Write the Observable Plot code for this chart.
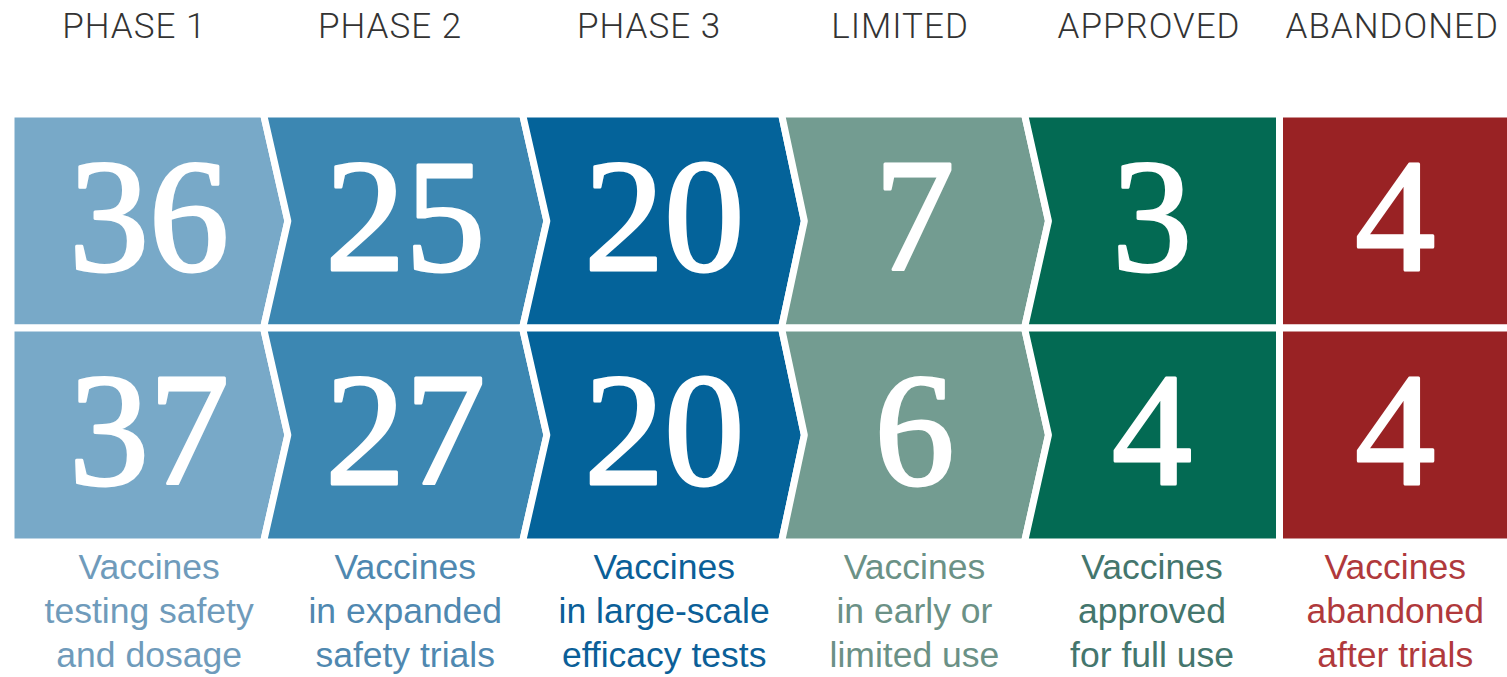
<!DOCTYPE html>
<html>
<head>
<meta charset="utf-8">
<script src="https://cdn.jsdelivr.net/npm/d3@7"></script>
<script src="https://cdn.jsdelivr.net/npm/@observablehq/plot@0.6"></script>
<style>
  html, body { margin: 0; padding: 0; background: #fff; }
  #chart svg { display: block; }
  .hdr text { letter-spacing: 1px; }
</style>
</head>
<body>
<div id="chart"></div>
<script>
// ---- data ----
const stages = ["PHASE 1", "PHASE 2", "PHASE 3", "LIMITED", "APPROVED", "ABANDONED"];
const countsTop = [36, 25, 20, 7, 3, 4];
const countsBottom = [37, 27, 20, 6, 4, 4];
const descriptions = [
  "Vaccines\ntesting safety\nand dosage",
  "Vaccines\nin expanded\nsafety trials",
  "Vaccines\nin large-scale\nefficacy tests",
  "Vaccines\nin early or\nlimited use",
  "Vaccines\napproved\nfor full use",
  "Vaccines\nabandoned\nafter trials"
];
const fillColors = ["#78a9c8", "#3c87b2", "#04639a", "#739c91", "#036a53", "#992224"];
const textColors = ["#6f9bbb", "#4f88b0", "#0b5f98", "#6b9186", "#44766d", "#b0393c"];

// ---- shapes (chevrons) built from the stage index ----
const tip = 0.094; // depth of the arrow point, in column units
const rows = [countsTop, countsBottom];
const polys = [];
const cells = [];
rows.forEach((vals, r) => {
  stages.forEach((s, i) => {
    const point = i < 4;            // points into next stage
    const notch = i >= 1 && i <= 4; // receives previous point
    const pts = [[i, r], [i + 1, r]];
    if (point) pts.push([i + 1 + tip, r + 0.5]);
    pts.push([i + 1, r + 1], [i, r + 1]);
    if (notch) pts.push([i + tip, r + 0.5]);
    pts.push([i, r]);
    const key = r + "-" + i;
    pts.forEach(([x, y]) => polys.push({x, y, key, color: fillColors[i]}));
    cells.push({i, r, value: vals[i], cx: i + 0.5 + (point ? tip / 2 : 0)});
  });
});
const descs = descriptions.map((t, i) => ({i, t, cx: i + 0.5 + (i < 4 ? tip / 2 : 0), color: textColors[i]}));

const chart = Plot.plot({
  width: 1507,
  height: 677,
  marginTop: 113.5,
  marginBottom: 135.5,
  marginLeft: 0,
  marginRight: 0,
  x: {type: "linear", domain: [0, 1, 2, 3, 4, 5, 6], range: [10.5, 263, 522, 781, 1024, 1279, 1510.5], axis: null},
  y: {type: "linear", domain: [0, 2], range: [113.5, 541.5], axis: null},
  color: {type: "identity"},
  marks: [
    Plot.line(polys, {x: "x", y: "y", z: "key", fill: "color", stroke: "white", strokeWidth: 7, strokeLinejoin: "miter"}),
    Plot.text(cells, {
      x: "cx", y: d => d.r + 0.5, text: d => String(d.value),
      fill: "white", stroke: "white", strokeWidth: 3,
      fontSize: 160, fontFamily: "Liberation Serif", fontWeight: "normal",
      lineAnchor: "middle", dy: -2
    }),
    Plot.text(stages, {
      x: (d, i) => i + 0.5, text: d => d, frameAnchor: "top", lineAnchor: "bottom",
      dy: -76.5, dx: -3, fontSize: 35, fontFamily: "Roboto", fontWeight: 300, fill: "#333",
      className: "hdr"
    }),
    Plot.text(descs, {
      x: "cx", text: "t", fill: "color", frameAnchor: "bottom", lineAnchor: "top",
      dy: 5.4, lineHeight: 1.24, fontSize: 35.5, fontFamily: "Liberation Sans"
    })
  ]
});
document.getElementById("chart").appendChild(chart);
</script>
</body>
</html>
